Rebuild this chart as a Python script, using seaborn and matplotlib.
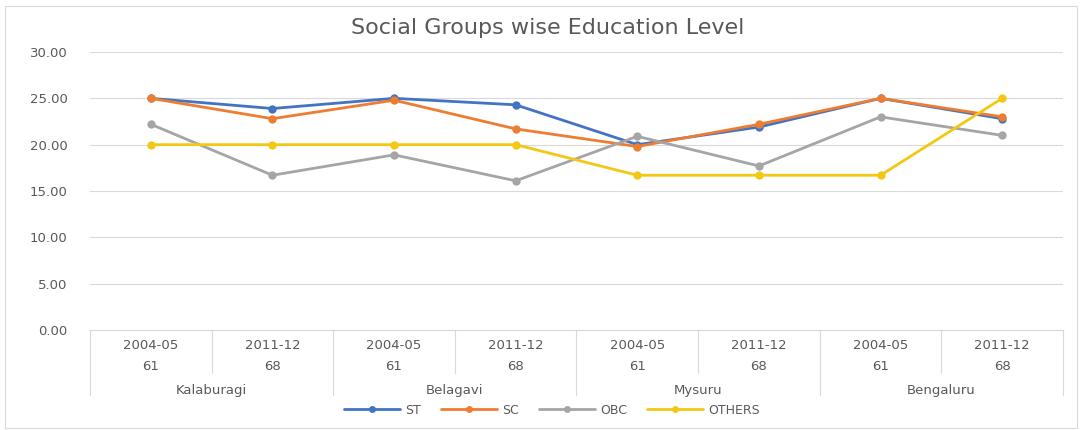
import matplotlib
matplotlib.use("Agg")
import matplotlib.pyplot as plt
import matplotlib.patches as mpatches
from matplotlib.lines import Line2D
import seaborn as sns
import pandas as pd

years = ["2004-05", "2011-12", "2004-05", "2011-12", "2004-05", "2011-12", "2004-05", "2011-12"]
rounds = ["61", "68", "61", "68", "61", "68", "61", "68"]
regions = ["Kalaburagi", "Belagavi", "Mysuru", "Bengaluru"]

st = [25.0, 23.9, 25.0, 24.3, 20.0, 21.9, 25.0, 22.8]
sc = [25.0, 22.8, 24.8, 21.7, 19.8, 22.2, 25.0, 23.0]
obc = [22.2, 16.7, 18.9, 16.1, 20.9, 17.7, 23.0, 21.0]
others = [20.0, 20.0, 20.0, 20.0, 16.7, 16.7, 16.7, 25.0]

series = {"ST": st, "SC": sc, "OBC": obc, "OTHERS": others}
colors = {"ST": "#4472C4", "SC": "#ED7D31", "OBC": "#A5A5A5", "OTHERS": "#F2C814"}

rows = []
for name, vals in series.items():
    for i, v in enumerate(vals):
        rows.append({"pos": i, "value": v, "group": name})
df = pd.DataFrame(rows)

sns.set_theme(style="white")
plt.rcParams["font.family"] = ["DejaVu Sans"]
txt = "#595959"
grid = "#D9D9D9"
fs = 9.5

fig = plt.figure(figsize=(10.82, 4.30), dpi=100)
ax = fig.add_axes([90/1082, 1-330/430, (1063-90)/1082, (330-52)/430])

sns.lineplot(data=df, x="pos", y="value", hue="group", palette=colors,
             marker="o", markersize=6, markeredgewidth=0, linewidth=2.0,
             ax=ax, legend=False, sort=False)

ax.set_xlim(-0.5, len(years) - 0.5)
ax.set_ylim(0, 30)
ax.set_yticks([0, 5, 10, 15, 20, 25, 30])
ax.set_yticklabels([f"{v:.2f}" for v in [0, 5, 10, 15, 20, 25, 30]], color=txt, fontsize=fs)
ax.tick_params(axis="y", length=0, pad=16)
ax.set_xticks([])
ax.set_xlabel("")
ax.set_ylabel("")
for y in [5, 10, 15, 20, 25, 30]:
    ax.axhline(y, color=grid, lw=0.8, zorder=0)
for s in ["left", "right", "top"]:
    ax.spines[s].set_visible(False)
ax.spines["bottom"].set_color(grid)
ax.spines["bottom"].set_linewidth(0.8)

trans = ax.get_xaxis_transform()
n = len(years)
for b in range(n + 1):
    xb = b - 0.5
    depth = -0.234 if b % 2 == 0 else -0.155
    ax.plot([xb, xb], [0, depth], transform=trans, color=grid, lw=0.8, clip_on=False)
for i in range(n):
    ax.text(i, -0.054, years[i], transform=trans, ha="center", va="center", color=txt, fontsize=fs)
    ax.text(i, -0.133, rounds[i], transform=trans, ha="center", va="center", color=txt, fontsize=fs)
for j, r in enumerate(regions):
    ax.text(2 * j + 0.5, -0.216, r, transform=trans, ha="center", va="center", color=txt, fontsize=fs)

handles = [Line2D([0], [0], color=colors[k], lw=2.0, marker="o", markersize=5, markeredgewidth=0)
           for k in series]
fig.legend(handles, list(series.keys()), loc="center", bbox_to_anchor=(552/1082, 1-410/430),
           ncol=4, frameon=False, fontsize=9, labelcolor=txt, handlelength=4.5,
           columnspacing=1.6, handletextpad=0.4)

fig.text(548/1082, 1-28/430, "Social Groups wise Education Level", ha="center", va="center",
         color=txt, fontsize=16)

fig.patches.append(mpatches.Rectangle((5/1082, 2/430), 1072/1082, 422/430, transform=fig.transFigure,
                                      fill=False, edgecolor="#D9D9D9", lw=0.8))

fig.savefig("out.png", dpi=100)
